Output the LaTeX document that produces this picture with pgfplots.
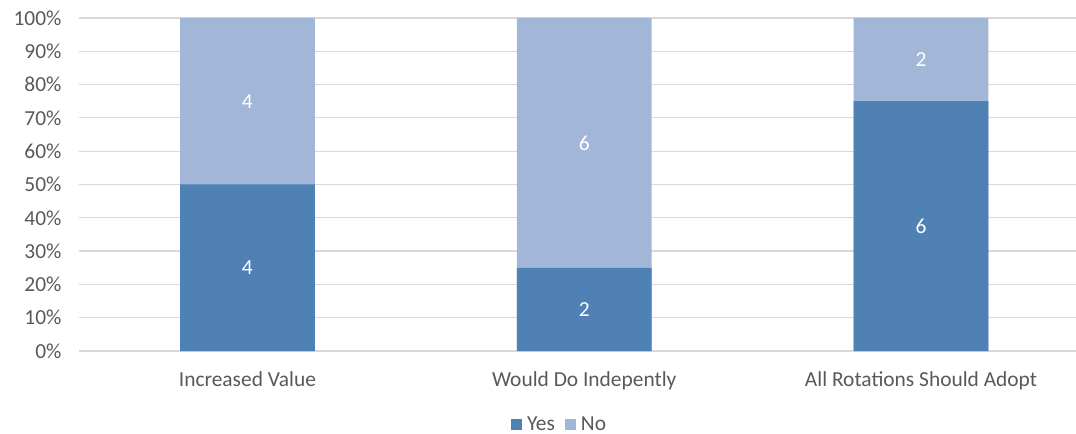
\documentclass[border=0pt]{standalone}
\usepackage{fontspec}
\setmainfont{Carlito}
\usepackage{pgfplots}
\pgfplotsset{compat=1.18}
\definecolor{yesc}{RGB}{79,129,180}
\definecolor{noc}{RGB}{162,182,216}
\definecolor{gridc}{RGB}{217,217,217}
\definecolor{txt}{RGB}{89,89,89}
\begin{document}
\begin{tikzpicture}
\path[use as bounding box] (-79bp,-83bp) rectangle (997bp,351bp);
\begin{axis}[
  at={(0,0)}, anchor=south west,
  scale only axis, width=997bp, height=333bp,
  xmin=-0.5, xmax=2.46, ymin=0, ymax=100,
  axis line style={draw=none},
  major tick length=0pt,
  /pgf/number format/assume math mode=true,
  ytick={0,10,...,100},
  yticklabel={\pgfmathprintnumber{\tick}\%},
  ymajorgrids,
  grid style={gridc, line width=1.2bp},
  xtick={0,1,2},
  xticklabels={Increased Value, Would Do Indepently, All Rotations Should Adopt},
  tick label style={font=\fontsize{21.5}{25}\selectfont, text=txt},
  yticklabel style={xshift=-14bp},
  xticklabel style={yshift=-17bp},
  reverse legend,
  legend columns=2,
  legend style={at={(0.482,-0.22)}, anchor=center, draw=none, fill=none,
    font=\fontsize{21.5}{25}\selectfont, text=txt,
    /tikz/every even column/.append style={column sep=8bp}},
]
\addplot[ybar, bar width=0.4, bar shift=0, fill=noc, draw=none,
  legend image code/.code={\fill[noc] (0bp,-6bp) rectangle (11bp,5bp); \path (0bp,0bp) (14bp,0bp);}]
  coordinates {(0,100) (1,100) (2,100)};
\addlegendentry{No}
\addplot[ybar, bar width=0.4, bar shift=0, fill=yesc, draw=none,
  legend image code/.code={\fill[yesc] (0bp,-6bp) rectangle (11bp,5bp); \path (0bp,0bp) (14bp,0bp);}]
  coordinates {(0,50) (1,25) (2,75)};
\addlegendentry{Yes}
\addplot[draw=none, mark=none, forget plot, nodes near coords,
  point meta=explicit symbolic,
  nodes near coords style={anchor=center, text=white, font=\fontsize{21.5}{25}\selectfont}]
  coordinates {(0,25)[4] (0,75)[4] (1,12.5)[2] (1,62.5)[6] (2,37.5)[6] (2,87.5)[2]};
\end{axis}
\end{tikzpicture}
\end{document}
